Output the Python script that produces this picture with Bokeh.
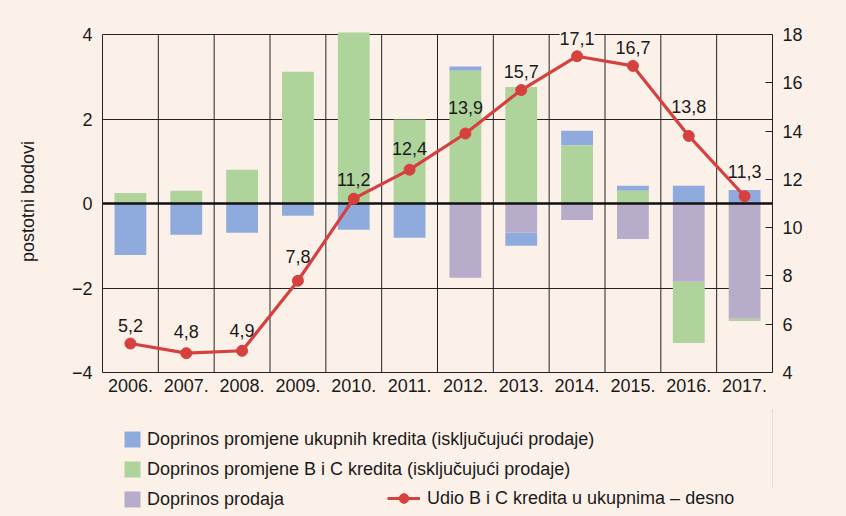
from bokeh.plotting import figure
from bokeh.layouts import column
from bokeh.core.properties import value
from bokeh.models import (Range1d, LinearAxis, FixedTicker, CustomJSTickFormatter,
                          ColumnDataSource, LabelSet, Label, Legend, LegendItem)
from bokeh.embed import file_html
from bokeh.resources import INLINE

# ---------------- data ----------------
years = ["2006.", "2007.", "2008.", "2009.", "2010.", "2011.",
         "2012.", "2013.", "2014.", "2015.", "2016.", "2017."]
ukupni = [-1.22, -0.74, -0.69, -0.29, -0.62, -0.81, 0.10, -0.31, 0.35, 0.12, 0.42, 0.32]
bic = [0.25, 0.30, 0.80, 3.12, 4.05, 1.99, 3.14, 2.76, 1.37, 0.30, -1.45, -0.05]
prodaja = [0.0, 0.0, 0.0, 0.0, 0.0, 0.0, -1.76, -0.69, -0.39, -0.84, -1.85, -2.73]
udio = [5.2, 4.8, 4.9, 7.8, 11.2, 12.4, 13.9, 15.7, 17.1, 16.7, 13.8, 11.3]
left_ticks = [-4, -2, 0, 2, 4]
right_ticks = [4, 6, 8, 10, 12, 14, 16, 18]
legend_labels = ["Doprinos promjene ukupnih kredita (isključujući prodaje)",
                 "Doprinos promjene B i C kredita (isključujući prodaje)",
                 "Doprinos prodaja",
                 "Udio B i C kredita u ukupnima – desno"]

# label lift in px (style)
label_lift = [12, 15, 14, 18, 13, 15, 19, 12, 11, 12, 23, 18]

# ---------------- style ----------------
BG = "#FCF1E9"
BLUE = "#8FAADC"
GREEN = "#AED39B"
PURPLE = "#B7ADCB"
RED = "#D6403F"
TXT = "#1A1A1A"
LINE = "#222222"
FONT = "Liberation Sans"
FS = "18px"

# layout geometry (px)
AX_TOP, AX_BOTTOM = 34, 372       # where the axis extremes sit
HEAD = 4                          # small headroom above the top line
plot_h = AX_BOTTOM - AX_TOP

n = len(years)
xc = [i + 0.5 for i in range(n)]
lmin, lmax = left_ticks[0], left_ticks[-1]
rmin, rmax = right_ticks[0], right_ticks[-1]
lpad = (lmax - lmin) * HEAD / plot_h
rpad = (rmax - rmin) * HEAD / plot_h

# stacking: negatives purple -> green -> blue ; positives green -> blue
pos = [0.0] * n
neg = [0.0] * n
stacks = {}
for name, ser in [("prodaja", prodaja), ("bic", bic), ("ukupni", ukupni)]:
    bottoms, tops = [], []
    for i, v in enumerate(ser):
        if v >= 0:
            b = pos[i]; t = b + v; pos[i] = t
        else:
            b = neg[i]; t = b + v; neg[i] = t
        bottoms.append(b); tops.append(t)
    stacks[name] = (bottoms, tops)

p = figure(width=846, height=410, x_range=Range1d(0, n), y_range=Range1d(lmin, lmax + lpad),
           output_backend="svg", toolbar_location=None,
           min_border_left=102, min_border_right=74, min_border_top=AX_TOP - HEAD,
           min_border_bottom=410 - AX_BOTTOM,
           background_fill_color=BG, border_fill_color=BG, outline_line_color=None)
p.extra_y_ranges = {"pct": Range1d(rmin, rmax + rpad)}

# grids
p.xgrid.visible = False
p.ygrid.ticker = FixedTicker(ticks=left_ticks)
p.ygrid.grid_line_color = LINE
p.ygrid.grid_line_width = 1
seps = list(range(1, n))
p.segment(x0=seps, y0=[lmin] * len(seps), x1=seps, y1=[lmax] * len(seps),
          line_color=LINE, line_width=1)

# bottom axis
xa = p.xaxis[0]
xa.ticker = FixedTicker(ticks=xc)
xa.formatter = CustomJSTickFormatter(args=dict(years=years),
                                     code="return years[Math.floor(tick)];")
# left axis
ya = p.yaxis[0]
ya.ticker = FixedTicker(ticks=left_ticks)
ya.bounds = (lmin, lmax)
ya.formatter = CustomJSTickFormatter(code="return tick < 0 ? '\\u2212' + Math.abs(tick) : String(tick);")
ya.axis_label = "postotni bodovi"
ya.axis_label_standoff = 31
ya.axis_label_text_font = FONT
ya.axis_label_text_font_size = FS
ya.axis_label_text_font_style = "normal"
ya.axis_label_text_color = TXT

# right axis
ra = LinearAxis(y_range_name="pct", ticker=FixedTicker(ticks=right_ticks), bounds=(rmin, rmax))
p.add_layout(ra, "right")

for ax in (xa, ya, ra):
    ax.axis_line_color = LINE
    ax.axis_line_width = 1
    ax.major_tick_out = 0
    ax.major_tick_in = 0
    ax.minor_tick_out = 0
    ax.minor_tick_in = 0
    ax.major_label_text_font = FONT
    ax.major_label_text_font_size = FS
    ax.major_label_text_color = TXT
xa.major_label_standoff = 6
ya.major_label_standoff = 10
ra.major_tick_in = 7
ra.major_tick_line_color = LINE
ra.major_label_standoff = 10

# bars
bw = 0.57
r_blue = p.vbar(x=xc, width=bw, bottom=stacks["ukupni"][0], top=stacks["ukupni"][1],
                fill_color=BLUE, line_color=None)
r_green = p.vbar(x=xc, width=bw, bottom=stacks["bic"][0], top=stacks["bic"][1],
                 fill_color=GREEN, line_color=None)
r_purple = p.vbar(x=xc, width=bw, bottom=stacks["prodaja"][0], top=stacks["prodaja"][1],
                  fill_color=PURPLE, line_color=None)

# zero line
p.hspan(y=[0], line_color="#111111", line_width=2.5)

# line
r_line = p.line(x=xc, y=udio, y_range_name="pct", line_color=RED, line_width=3.2)
r_pts = p.scatter(x=xc, y=udio, y_range_name="pct", size=11, fill_color=RED, line_color=RED)

# value labels
vmax = max(udio)
lab_src = ColumnDataSource(dict(
    x=xc, y=udio,
    t=[f"{v:.1f}".replace(".", ",") for v in udio],
    dy=label_lift,
    bga=[1.0 if v == vmax else 0.0 for v in udio],
))
labels = LabelSet(x="x", y="y", text="t", source=lab_src, y_range_name="pct",
                  y_offset="dy", text_align="center", text_baseline="alphabetic",
                  text_font=value(FONT), text_font_size=value(FS), text_color=TXT,
                  background_fill_color=BG, background_fill_alpha="bga")
p.add_layout(labels)

# right unit
p.add_layout(Label(x=727, y=185, x_units="screen", y_units="screen",
                   text="%", text_align="left", text_baseline="middle",
                   text_font=FONT, text_font_size=FS, text_color=TXT))

# ---------------- legend panel ----------------
# the series are drawn here only so that the legend has glyphs; the view range
# is set away from them so nothing is visible in this panel
q = figure(width=846, height=106, x_range=Range1d(-3, -2), y_range=Range1d(-3, -2),
           x_axis_location=None, y_axis_location=None,
           output_backend="svg", toolbar_location=None,
           min_border_left=102, min_border_right=74, min_border_top=0, min_border_bottom=0,
           background_fill_color=BG, border_fill_color=BG, outline_line_color=None)
q.grid.visible = False
g_blue = q.vbar(x=xc, width=bw, top=ukupni, fill_color=BLUE, line_color=None)
g_green = q.vbar(x=xc, width=bw, top=bic, fill_color=GREEN, line_color=None)
g_purple = q.vbar(x=xc, width=bw, top=prodaja, fill_color=PURPLE, line_color=None)
g_line = q.line(x=xc, y=udio, line_color=RED, line_width=3.2)
g_pts = q.scatter(x=xc, y=udio, size=11, fill_color=RED, line_color=RED)

leg1 = Legend(items=[
    LegendItem(label=legend_labels[0], renderers=[g_blue]),
    LegendItem(label=legend_labels[1], renderers=[g_green]),
    LegendItem(label=legend_labels[2], renderers=[g_purple]),
], location=(20, 6), orientation="vertical",
    glyph_width=20, glyph_height=20, label_height=22, spacing=8,
    padding=0, margin=0, label_standoff=5,
    border_line_color=None, background_fill_alpha=0,
    label_text_font=FONT, label_text_font_size=FS, label_text_color=TXT)
leg2 = Legend(items=[
    LegendItem(label=legend_labels[3], renderers=[g_line, g_pts]),
], location=(285, 6), orientation="vertical",
    glyph_width=33, glyph_height=24, label_height=24, spacing=0,
    padding=0, margin=0, label_standoff=7,
    border_line_color=None, background_fill_alpha=0,
    label_text_font=FONT, label_text_font_size=FS, label_text_color=TXT)
q.add_layout(leg1)
q.add_layout(leg2)

layout = column(p, q, spacing=0)
html = file_html(layout, INLINE)
html = html.replace("</head>",
                    "<style>html,body{background:%s;overflow:hidden;}</style></head>" % BG, 1)
open("out.html", "w").write(html)
